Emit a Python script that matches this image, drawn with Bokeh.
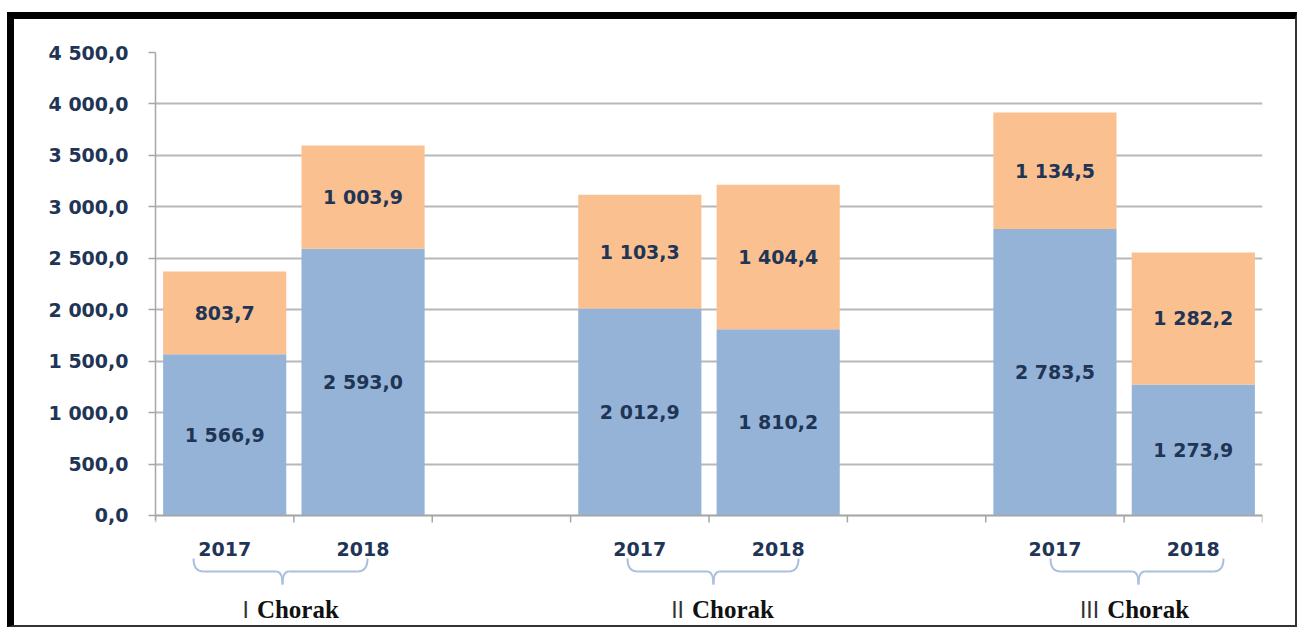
from bokeh.plotting import figure
from bokeh.models import Range1d, FixedTicker, ColumnDataSource
from bokeh.core.properties import value
from bokeh.embed import file_html
from bokeh.resources import INLINE

# ---------------- data ----------------
quarters = ["I", "II", "III"]
years = ["2017", "2018"]
blue_vals = [1566.9, 2593.0, 2012.9, 1810.2, 2783.5, 1273.9]
orange_vals = [803.7, 1003.9, 1103.3, 1404.4, 1134.5, 1282.2]
y_ticks = [0, 500, 1000, 1500, 2000, 2500, 3000, 3500, 4000, 4500]
y_tick_labels = ["0,0", "500,0", "1 000,0", "1 500,0", "2 000,0",
                 "2 500,0", "3 000,0", "3 500,0", "4 000,0", "4 500,0"]
quarter_word = "Chorak"


def fmt(v):
    return f"{v:,.1f}".replace(",", " ").replace(".", ",")


# ---------------- derived ----------------
xs = [3 * g + j + 0.5 for g in range(len(quarters)) for j in range(len(years))]
year_lbl = [years[j] for g in range(len(quarters)) for j in range(len(years))]
blue_mid = [b / 2 for b in blue_vals]
orange_top = [b + o for b, o in zip(blue_vals, orange_vals)]
orange_mid = [b + o / 2 for b, o in zip(blue_vals, orange_vals)]

src = ColumnDataSource(dict(
    x=xs, blue=blue_vals, otop=orange_top, bmid=blue_mid, omid=orange_mid,
    blab=[fmt(v) for v in blue_vals], olab=[fmt(v) for v in orange_vals],
    year=year_lbl,
))

NAVY = "#1f3556"
FONT = value("DejaVu Sans")

p = figure(width=1290, height=615, output_backend="svg", toolbar_location=None,
           x_range=Range1d(0, 8), y_range=Range1d(-1157, 4500),
           x_axis_type=None, min_border_left=141, min_border_right=42,
           min_border_top=33, min_border_bottom=0)
p.styles = {"border-top": "7px solid #000", "border-left": "7px solid #000",
            "border-right": "2px solid #333", "border-bottom": "2px solid #333",
            "margin-top": "12px", "margin-left": "7px"}
p.outline_line_color = None
p.background_fill_color = "white"
p.border_fill_color = "white"

# y axis
ya = p.yaxis[0]
ya.ticker = FixedTicker(ticks=y_ticks)
ya.major_label_overrides = {t: l for t, l in zip(y_ticks, y_tick_labels)}
ya.bounds = (-45, 4500)
ya.axis_line_color = "#a6a6a6"
ya.axis_line_width = 1.5
ya.major_tick_line_color = "#a6a6a6"
ya.major_tick_line_width = 1.5
ya.major_tick_out = 7
ya.major_tick_in = 0
ya.minor_tick_line_color = None
ya.major_label_standoff = 20
ya.major_label_text_font = "DejaVu Sans"
ya.major_label_text_font_style = "bold"
ya.major_label_text_font_size = "19px"
ya.major_label_text_color = NAVY

p.ygrid.ticker = FixedTicker(ticks=y_ticks)
p.ygrid.grid_line_color = "#b8b8b8"
p.ygrid.grid_line_width = 2

# bars
p.vbar(x="x", bottom=0, top="blue", width=0.89, source=src,
       fill_color="#95b3d7", line_color=None)
p.vbar(x="x", bottom="blue", top="otop", width=0.89, source=src,
       fill_color="#fac090", line_color=None)

# x axis (drawn at y = 0)
xt = list(range(0, 9))
p.segment(x0=0, y0=0, x1=8, y1=0, line_color="#a6a6a6", line_width=1.5)
p.segment(x0=xt, y0=[0] * len(xt), x1=xt, y1=[-68] * len(xt),
          line_color="#a6a6a6", line_width=1.5)

# data labels
for col, lab in (("bmid", "blab"), ("omid", "olab")):
    p.text(x="x", y=col, text=lab, source=src, text_align="center",
           text_baseline="middle", text_font=FONT, text_font_style="bold",
           text_font_size="19px", text_color=NAVY)

# year labels
p.text(x="x", y=-330, text="year", source=src, text_align="center",
       text_baseline="middle", text_font=FONT, text_font_style="bold",
       text_font_size="19px", text_color=NAVY)

# braces
brace_left = [0.275, 3.411, 6.468]
brace_right = [1.532, 4.647, 7.718]
brace_mid = [0.918, 4.032, 7.104]
y_top, y_mid, y_bot = -418, -544, -671
d_end, d_mid = 0.072, 0.045
bc = "#a9c0dc"
for a, b, m in zip(brace_left, brace_right, brace_mid):
    p.quadratic(x0=[a, m - d_mid, m, b - d_end], y0=[y_top, y_mid, y_bot, y_mid],
                x1=[a + d_end, m, m + d_mid, b], y1=[y_mid, y_bot, y_mid, y_top],
                cx=[a, m, m, b], cy=[y_mid, y_mid, y_mid, y_mid],
                line_color=bc, line_width=2)
    p.segment(x0=[a + d_end, m + d_mid], y0=[y_mid, y_mid],
              x1=[m - d_mid, b - d_end], y1=[y_mid, y_mid],
              line_color=bc, line_width=2)

# quarter labels
gc = [3 * g + 1 for g in range(len(quarters))]
word_off = [-37, -17, -17]
y_q = -915
for g, q in enumerate(quarters):
    p.text(x=[gc[g]], y=[y_q], text=[q], x_offset=word_off[g] - 8,
           text_align="right", text_baseline="middle",
           text_font=value("Liberation Sans"), text_font_size="23px",
           text_color="#333333")
    p.text(x=[gc[g]], y=[y_q], text=[quarter_word], x_offset=word_off[g],
           text_align="left", text_baseline="middle",
           text_font=value("Liberation Serif"), text_font_style="bold",
           text_font_size="25px", text_color="#111111")

open("out.html", "w").write(file_html(p, INLINE))
